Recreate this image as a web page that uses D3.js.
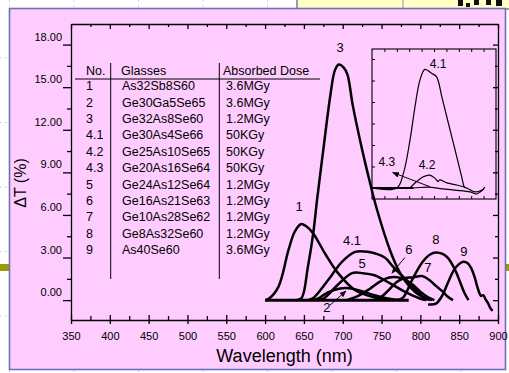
<!DOCTYPE html>
<html>
<head>
<meta charset="UTF-8">
<style>
  body { margin: 0; background: #fff; }
  svg { display: block; font-family: "Liberation Sans", Arial, sans-serif; }
</style>
<title>delta T spectra</title>
</head>
<body>
<svg></svg>
<script src="https://cdn.jsdelivr.net/npm/d3@7"></script>
<script>

let width = 509, height = 373;

// table content
let nos = ["1", "2", "3", "4.1", "4.2", "4.3", "5", "6", "7", "8", "9"];
let glasses = ["As32Sb8S60", "Ge30Ga5Se65", "Ge32As8Se60", "Ge30As4Se66", "Ge25As10Se65",
  "Ge20As16Se64", "Ge24As12Se64", "Ge16As21Se63", "Ge10As28Se62", "Ge8As32Se60", "As40Se60"];
let doses = ["3.6MGy", "3.6MGy", "1.2MGy", "50KGy", "50KGy", "50KGy", "1.2MGy", "1.2MGy", "1.2MGy", "1.2MGy", "3.6MGy"];

// axis ticks
let xTicks = [350, 400, 450, 500, 550, 600, 650, 700, 750, 800, 850, 900];
let yTicks = [0, 3, 6, 9, 12, 15, 18];

// main curves [wavelength nm, dT %]
let curve1 = [[600,0],[604,0.07],[617,0.92],[630,3.5],[638,4.8],[646,5.35],[653,5.2],[662,4.7],[677,3.3],[694,1.9],[716,0.7],[741,0.2],[760,0.03]];
let curve2 = [[660,0],[668,0.1],[681,0.55],[695,0.8],[705,0.85],[720,0.7],[741,0.35],[760,0.1],[775,0]];
let curve3 = [[640,0],[647,0.14],[655,2.3],[662,4.7],[667,7.1],[675,10.6],[684,14.4],[690,16.2],[695,16.6],[701,16.4],[706,15.9],[713,13.7],[725,10.6],[735,8.3],[744,6.4],[761,3.5],[774,1.9],[787,0.9],[803,0.2],[812,0]];
let curve41 = [[655,0],[662,0.14],[681,1.4],[699,2.7],[716,3.4],[732,3.4],[754,3.0],[765,2.35],[787,1.15],[804,0.24],[815,0]];
let curve5 = [[668,0],[675,0.1],[694,1.1],[712,1.9],[726,1.9],[741,1.75],[754,1.4],[770,0.9],[785,0.45],[800,0.1],[808,0]];
let curve6 = [[705,0],[720,0.3],[735,0.8],[748,1.3],[760,1.6],[775,1.55],[790,1.1],[800,0.6],[810,0.2],[818,0]];
let curve7 = [[740,0],[750,0.25],[760,0.75],[770,1.3],[780,1.55],[790,1.6],[802,1.7],[812,1.4],[820,1.0],[829,0.6],[835,0.25],[842,0]];
let curve8 = [[770,0],[778,0.2],[790,1.5],[803,2.7],[812,3.2],[821,3.35],[834,3.06],[845,2.1],[851,1.3],[857,0.48],[862,0]];
let curve9 = [[810,-0.3],[820,-0.25],[828,0.3],[836,1.3],[843,2.1],[849,2.5],[855,2.7],[861,2.6],[865,2.3],[870,1.6],[873,1.0],[876,0.5],[878,0.3],[881,0.35],[884,0.05],[887,-0.2],[890,-0.55],[893,-0.75]];
let baseline = [[600,0],[785,0]];

let mainCurves = [curve1, curve2, curve3, curve41, curve5, curve6, curve7, curve8, curve9];
let mainLabels = [["3",696.5,17.8],["1",643.7,6.6],["4.1",712,4.2],["5",725,2.6],["2",679.7,-0.5],
  ["6",785.3,3.6],["7",809.8,2.3],["8",820,4.3],["9",856,3.45]];
let mainArrows = [[[683.6,-0.35],[704.2,0.64]], [[780,3.0],[763.4,1.9]]];

// inset curves (relative units)
let inset41 = [[600,0],[660,0],[676,0.34],[692,1.12],[704,1.89],[716,2.51],[728,2.76],[744,2.67],[756,2.59],[769,2.12],[785,1.5],[805,0.73],[817,0.26],[823,0.03],[826,0]];
let inset42 = [[692,0],[708,0.15],[724,0.26],[739,0.3],[752,0.23],[760,0.15],[764,0.19],[781,0.12],[805,0.07],[829,0],[849,-0.09],[871,-0.03]];
let inset43 = [[600,0],[700,0],[735,0.02],[770,-0.02],[800,-0.05],[837,-0.09],[846,-0.12],[853,-0.14],[860,-0.1],[866,-0.06],[873,0.02]];
let insetLabels = [["4.1",760,2.88],["4.3",636,0.6],["4.2",733,0.53]];
let insetArrow = [[740,0.03],[650,0.36]];

let svg = d3.select("svg").attr("width", width).attr("height", height);

// ---- slide background bits ----
let grid = svg.append("g").attr("stroke", "#c9d2ee").attr("stroke-dasharray", "2,3");
d3.range(9.5, width, 64.5).forEach(gx => grid.append("line").attr("x1", gx).attr("x2", gx).attr("y1", 0).attr("y2", height));
d3.range(-6.5, height, 64.5).forEach(gy => grid.append("line").attr("x1", 0).attr("x2", width).attr("y1", gy).attr("y2", gy));
svg.append("rect").attr("x", 297).attr("y", -2).attr("width", 215).attr("height", 11)
  .attr("fill", "#ffffc6").attr("stroke", "#3a3a6a");
svg.append("line").attr("x1", 403).attr("x2", 403).attr("y1", 0).attr("y2", 8).attr("stroke", "#999");
[[458,0,5,6],[466,3,4,4],[474,0,5,5],[486,0,5,5],[496,0,6,6]].forEach(r =>
  svg.append("rect").attr("x", r[0]).attr("y", r[1]).attr("width", r[2]).attr("height", r[3]).attr("fill", "#111"));
svg.append("rect").attr("x", 0).attr("y", 264).attr("width", width).attr("height", 7).attr("fill", "#9c9a0c");

// pink panel
svg.append("rect").attr("x", 9.5).attr("y", 8.5).attr("width", 496).attr("height", 361)
  .attr("fill", "#ffccff").attr("stroke", "#6e70b8").attr("stroke-width", 1.6);

// ---- scales ----
let x = d3.scaleLinear().domain([350, 900]).range([71, 498]);
let y = d3.scaleLinear().domain([-1.4, 19.45]).range([320, 24]);

let minorX = d3.range(375, 900, 50);
let minorY = d3.range(1.5, 19, 3);

function styleAxis(g) {
  g.selectAll("path, line").attr("stroke", "#000").attr("stroke-width", 1.3);
  g.selectAll("text").attr("fill", "#000").attr("font-family", "Liberation Sans, Arial, sans-serif").attr("font-size", 11);
}

// left
svg.append("g").attr("transform", "translate(71,0)")
  .call(d3.axisLeft(y).tickValues(yTicks).tickFormat(d3.format(".2f")).tickSize(8).tickSizeOuter(0).tickPadding(1))
  .call(styleAxis)
  .call(g => g.selectAll("text").attr("dy", "-0.4em"));
svg.append("g").attr("transform", "translate(71,0)")
  .call(d3.axisLeft(y).tickValues(minorY).tickFormat("").tickSize(4).tickSizeOuter(0))
  .call(styleAxis).call(g => g.select(".domain").remove());

// right
svg.append("g").attr("transform", "translate(498,0)")
  .call(d3.axisRight(y).tickValues(yTicks).tickFormat("").tickSize(-5).tickSizeOuter(0))
  .call(styleAxis);
svg.append("g").attr("transform", "translate(498,0)")
  .call(d3.axisRight(y).tickValues(minorY).tickFormat("").tickSize(-3).tickSizeOuter(0))
  .call(styleAxis).call(g => g.select(".domain").remove());

// top
svg.append("g").attr("transform", "translate(0,24)")
  .call(d3.axisTop(x).tickValues(xTicks).tickFormat("").tickSize(-5).tickSizeOuter(0))
  .call(styleAxis);
svg.append("g").attr("transform", "translate(0,24)")
  .call(d3.axisTop(x).tickValues(minorX).tickFormat("").tickSize(-3).tickSizeOuter(0))
  .call(styleAxis).call(g => g.select(".domain").remove());

// bottom
svg.append("g").attr("transform", "translate(0,320)")
  .call(d3.axisBottom(x).tickValues(xTicks).tickSize(4).tickSizeOuter(0).tickPadding(8))
  .call(styleAxis)
  .call(g => g.selectAll(".tick line").attr("y1", -5));
svg.append("g").attr("transform", "translate(0,320)")
  .call(d3.axisBottom(x).tickValues(minorX).tickFormat("").tickSize(-4).tickSizeOuter(0))
  .call(styleAxis).call(g => g.select(".domain").remove());

// axis titles
svg.append("text").attr("x", 284.5).attr("y", 362).attr("text-anchor", "middle")
  .attr("font-size", 18).text("Wavelength (nm)");
svg.append("text").attr("transform", "translate(26,183) rotate(-90)").attr("text-anchor", "middle")
  .attr("font-size", 16).text("\u0394T (%)");

// ---- table ----
let rowY = d3.scaleLinear().domain([0, 1]).range([85.7, 102.1]);
let table = svg.append("g").attr("font-size", 12.5).attr("fill", "#000");
table.append("text").attr("x", 86).attr("y", 74.5).text("No.");
table.append("text").attr("x", 121).attr("y", 74.5).text("Glasses");
table.append("text").attr("x", 223).attr("y", 74.5).text("Absorbed Dose");
table.append("line").attr("x1", 75).attr("x2", 320).attr("y1", 79).attr("y2", 79).attr("stroke", "#000").attr("stroke-width", 1);
[110.7, 219.3].forEach(lx => table.append("line").attr("x1", lx).attr("x2", lx).attr("y1", 63).attr("y2", 279)
  .attr("stroke", "#000").attr("stroke-width", 1));
nos.forEach((n, i) => {
  let ty = rowY(i) + 4.5;
  table.append("text").attr("x", 86).attr("y", ty).text(n);
  table.append("text").attr("x", 122).attr("y", ty).text(glasses[i]);
  table.append("text").attr("x", 226).attr("y", ty).text(doses[i]);
});

// ---- inset ----
let ix = d3.scaleLinear().domain([600, 900]).range([372, 496]);
let iy = d3.scaleLinear().domain([-0.256, 3.233]).range([199, 49]);
let inset = svg.append("g");
inset.append("rect").attr("x", 372).attr("y", 49).attr("width", 124).attr("height", 150)
  .attr("fill", "none").attr("stroke", "#000").attr("stroke-width", 1.1);
inset.append("g").attr("transform", "translate(372,0)")
  .call(d3.axisLeft(iy).tickValues(d3.range(0.5, 3.2, 0.5)).tickFormat("").tickSize(-3).tickSizeOuter(0))
  .call(g => g.select(".domain").remove())
  .call(g => g.selectAll("line").attr("stroke", "#000"));
inset.append("g").attr("transform", "translate(0,49)")
  .call(d3.axisTop(ix).tickValues(d3.range(630, 900, 30)).tickFormat("").tickSize(-3).tickSizeOuter(0))
  .call(g => g.select(".domain").remove())
  .call(g => g.selectAll("line").attr("stroke", "#000"));
inset.append("g").attr("transform", "translate(0,199)")
  .call(d3.axisBottom(ix).tickValues(d3.range(630, 900, 30)).tickFormat("").tickSize(-3).tickSizeOuter(0))
  .call(g => g.select(".domain").remove())
  .call(g => g.selectAll("line").attr("stroke", "#000"));

let iline = d3.line().x(d => ix(d[0])).y(d => iy(d[1])).curve(d3.curveCatmullRom);
inset.append("path").attr("d", iline([[600,0],[700,0]])).attr("fill", "none").attr("stroke", "#000").attr("stroke-width", 2);
[inset41, inset42, inset43].forEach(c =>
  inset.append("path").attr("d", iline(c)).attr("fill", "none").attr("stroke", "#000").attr("stroke-width", 1.2));
insetLabels.forEach(l => inset.append("text").attr("x", ix(l[1])).attr("y", iy(l[2]))
  .attr("text-anchor", "middle").attr("dy", "0.35em").attr("font-size", 12).text(l[0]));

// arrow markers
let defs = svg.append("defs");
defs.append("marker").attr("id", "arr").attr("viewBox", "0 0 10 10").attr("refX", 9).attr("refY", 5)
  .attr("markerWidth", 7).attr("markerHeight", 7).attr("orient", "auto-start-reverse")
  .append("path").attr("d", "M0,1 L10,5 L0,9 z").attr("fill", "#000");
inset.append("line").attr("x1", ix(insetArrow[0][0])).attr("y1", iy(insetArrow[0][1]))
  .attr("x2", ix(insetArrow[1][0])).attr("y2", iy(insetArrow[1][1]))
  .attr("stroke", "#000").attr("stroke-width", 1).attr("marker-end", "url(#arr)");

// ---- main curves ----
let line = d3.line().x(d => x(d[0])).y(d => y(d[1])).curve(d3.curveCatmullRom);
svg.append("path").attr("d", line(baseline)).attr("fill", "none").attr("stroke", "#000").attr("stroke-width", 3);
svg.append("g").selectAll("path").data(mainCurves).enter().append("path")
  .attr("d", line).attr("fill", "none").attr("stroke", "#000").attr("stroke-width", 2.5)
  .attr("stroke-linejoin", "round");

svg.append("g").selectAll("text").data(mainLabels).enter().append("text")
  .attr("x", d => x(d[1])).attr("y", d => y(d[2])).attr("dy", "0.35em")
  .attr("text-anchor", "middle").attr("font-size", 13).text(d => d[0]);

mainArrows.forEach(a => svg.append("line")
  .attr("x1", x(a[0][0])).attr("y1", y(a[0][1])).attr("x2", x(a[1][0])).attr("y2", y(a[1][1]))
  .attr("stroke", "#000").attr("stroke-width", 1).attr("marker-end", "url(#arr)"));

</script>
</body>
</html>
